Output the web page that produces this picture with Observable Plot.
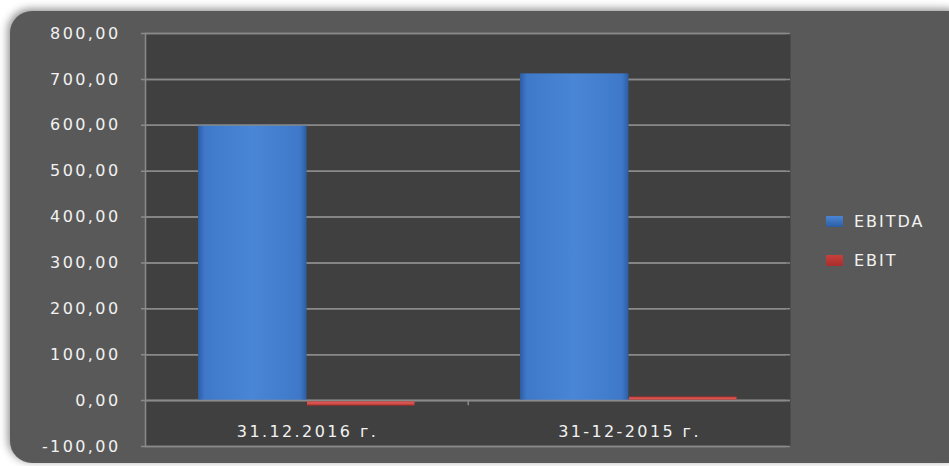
<!DOCTYPE html>
<html>
<head>
<meta charset="utf-8">
<script src="https://cdn.jsdelivr.net/npm/d3@7"></script>
<script src="https://cdn.jsdelivr.net/npm/@observablehq/plot@0.6"></script>
<style>
  html, body { margin: 0; padding: 0; background: #ffffff; }
  #wrap { position: relative; width: 949px; height: 466px; overflow: hidden; }
  #panel { position: absolute; left: 10px; top: 11px; width: 960px; height: 452px;
    background: #595959; border-radius: 22px;
    box-shadow: -2px -2px 8px rgba(0,0,0,0.45); }
  #chart { position: absolute; left: 0; top: 0; }
  #chart text { letter-spacing: 2.4px; }
  #legend { position: absolute; left: 826px; top: 211px; font-family: "DejaVu Sans", sans-serif;
    font-size: 16px; color: #f2f2f2; letter-spacing: 2px; }
  .item { display: flex; align-items: center; height: 20px; margin-bottom: 19px; }
  .sw { width: 17px; height: 11px; margin-right: 11px; border-radius: 1px; }
</style>
</head>
<body>
<div id="wrap">
  <div id="panel"></div>
  <div id="chart"></div>
  <div id="legend"></div>
</div>
<script>
const categories = ["31.12.2016 г.", "31-12-2015 г."];
const series = ["EBITDA", "EBIT"];
const ebitda = [598, 712];
const ebit = [-12, 8];
const yTicks = [-100, 0, 100, 200, 300, 400, 500, 600, 700, 800];
const colors = {EBITDA: "#4a86d6", EBIT: "#c8403c"};

const rows = [];
categories.forEach((c, i) => {
  rows.push({date: c, series: "EBITDA", value: ebitda[i]});
  rows.push({date: c, series: "EBIT", value: ebit[i]});
});

const W = 949, H = 466, mL = 145, mR = 159, mT = 33, mB = 20;
const band = (W - mL - mR) / categories.length;
const fmt = d => d.toFixed(2).replace(".", ",");

const plot = Plot.plot({
  width: W, height: H,
  marginLeft: mL, marginRight: mR, marginTop: mT, marginBottom: mB,
  style: {background: "transparent", fontFamily: "DejaVu Sans, sans-serif", fontSize: "16px", color: "#f2f2f2"},
  x: {type: "band", domain: categories, padding: 0, axis: null},
  y: {domain: [-100, 800], axis: null},
  marks: [
    Plot.frame({fill: "#404040", stroke: null}),
    Plot.ruleY(yTicks, {stroke: "#8a8a8a", strokeWidth: 1.5}),
    Plot.frame({anchor: "left", stroke: "#8a8a8a", strokeWidth: 1.5}),
    Plot.tickY(yTicks, {y: d => d, stroke: "#8a8a8a", strokeWidth: 1.5, frameAnchor: "left", dx: -4, inset: 0}),
    Plot.text(yTicks, {y: d => d, text: fmt, frameAnchor: "left", dx: -25, textAnchor: "end",
      fill: "#f2f2f2", fontSize: 16}),
    Plot.barY(rows.filter(d => d.series === "EBITDA"), {x: "date", y: "value", fill: "url(#gBlue)",
      insetLeft: 52, insetRight: band - 161}),
    Plot.barY(rows.filter(d => d.series === "EBIT"), {x: "date", y: "value", fill: "url(#gRed)",
      insetLeft: 161, insetRight: band - 269}),
    Plot.ruleY([0], {stroke: "#8a8a8a", strokeWidth: 1.5}),
    Plot.ruleX([categories[1]], {x: d => d, y1: 0, y2: -11, dx: -band / 2, stroke: "#8a8a8a", strokeWidth: 1.5}),
    Plot.text(categories, {x: d => d, y: -100, dy: -15, text: d => d, fill: "#f2f2f2", fontSize: 16, dx: 0})
  ]
});

const svgNS = "http://www.w3.org/2000/svg";
const defs = document.createElementNS(svgNS, "defs");
defs.innerHTML = `
  <linearGradient id="gBlue" x1="0" x2="1" y1="0" y2="0">
    <stop offset="0" stop-color="#2c5da3"/>
    <stop offset="0.06" stop-color="#3f78c8"/>
    <stop offset="0.5" stop-color="#4a86d6"/>
    <stop offset="0.94" stop-color="#3f78c8"/>
    <stop offset="1" stop-color="#2c5da3"/>
  </linearGradient>
  <linearGradient id="gRed" x1="0" x2="0" y1="0" y2="1">
    <stop offset="0" stop-color="#a82e2b"/>
    <stop offset="0.5" stop-color="#e05a55"/>
    <stop offset="1" stop-color="#a82e2b"/>
  </linearGradient>`;
plot.insertBefore(defs, plot.firstChild);
document.getElementById("chart").appendChild(plot);

const legend = document.getElementById("legend");
series.forEach(s => {
  const it = document.createElement("div");
  it.className = "item";
  const sw = document.createElement("div");
  sw.className = "sw";
  sw.style.background = `linear-gradient(${colors[s]}, ${s === "EBITDA" ? "#2c5da3" : "#a82e2b"})`;
  const t = document.createElement("span");
  t.textContent = s;
  it.appendChild(sw); it.appendChild(t);
  legend.appendChild(it);
});
</script>
</body>
</html>
